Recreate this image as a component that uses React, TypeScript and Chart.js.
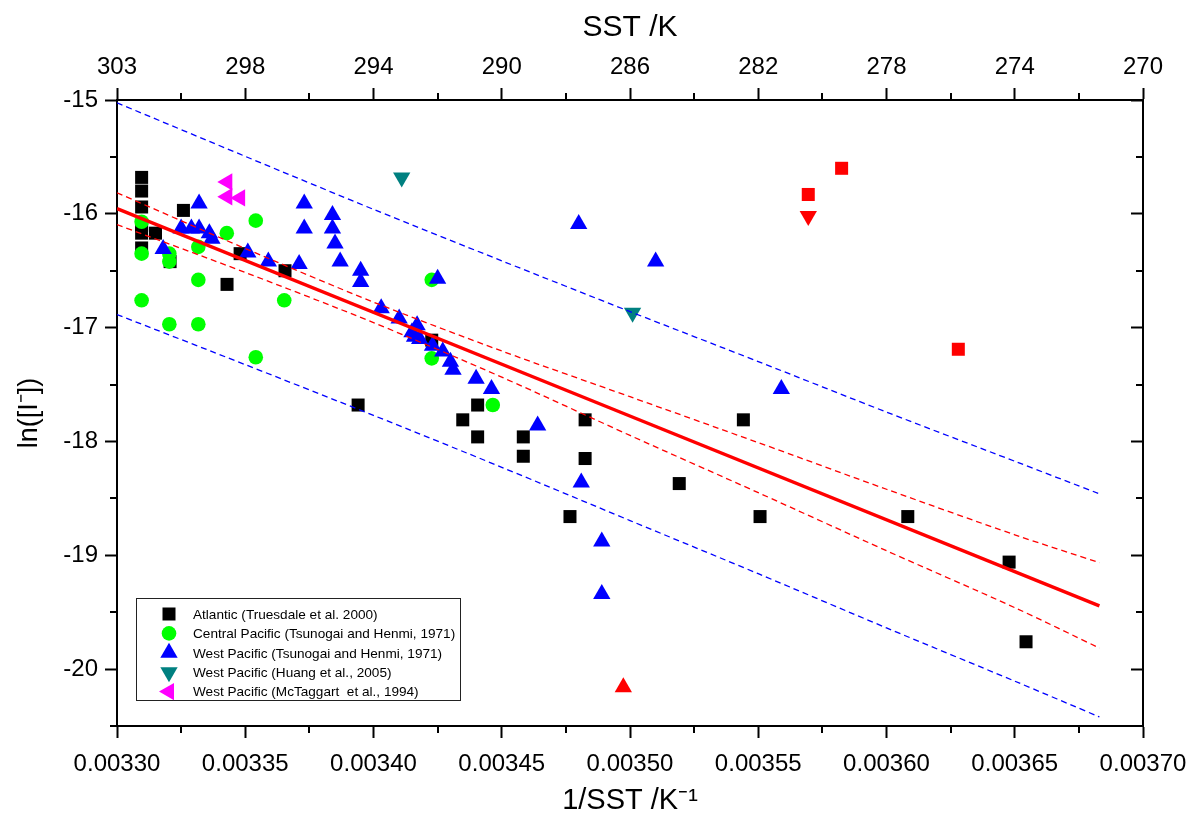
import React, { useEffect, useRef } from 'react';
import { Chart, registerables } from 'chart.js';
import * as helpers from 'chart.js/helpers';

Chart.register(...registerables);

const FONT = "'Liberation Sans', Arial, Helvetica, sans-serif";

// ---- axes ----
const X_MIN = 0.0033;
const X_MAX = 0.0037;
const X_TICKS = [0.0033, 0.00335, 0.0034, 0.00345, 0.0035, 0.00355, 0.0036, 0.00365, 0.0037];
const X_TICK_LABELS = ['0.00330', '0.00335', '0.00340', '0.00345', '0.00350', '0.00355', '0.00360', '0.00365', '0.00370'];
const X_MINOR = [0.003325, 0.003375, 0.003425, 0.003475, 0.003525, 0.003575, 0.003625, 0.003675];
const TOP_TICK_LABELS = ['303', '298', '294', '290', '286', '282', '278', '274', '270'];
const Y_MIN = -20.5;
const Y_MAX = -15;
const Y_TICKS = [-20, -19, -18, -17, -16, -15];
const Y_TICK_LABELS = ['-20', '-19', '-18', '-17', '-16', '-15'];
const Y_MINOR = [-20.5, -19.5, -18.5, -17.5, -16.5, -15.5];

// ---- series ----
const ATLANTIC_X = [0.0033096, 0.0033096, 0.0033096, 0.0033096, 0.0033096, 0.0033096, 0.003315, 0.0033259, 0.0033207, 0.0033429, 0.003348, 0.0033655, 0.003394, 0.0034227, 0.0034348, 0.0034406, 0.0034406, 0.0034584, 0.0034584, 0.0034825, 0.0034825, 0.0034766, 0.0035192, 0.0035442, 0.0035507, 0.0036083, 0.0036478, 0.0036544];
const ATLANTIC_Y = [-15.68, -15.80, -15.94, -16.10, -16.17, -16.30, -16.17, -15.97, -16.42, -16.62, -16.35, -16.50, -17.68, -17.11, -17.81, -17.68, -17.96, -17.96, -18.13, -17.81, -18.15, -18.66, -18.37, -17.81, -18.66, -18.66, -19.06, -19.76];

const CENTRAL_X = [0.0033096, 0.0033096, 0.0033096, 0.0033204, 0.0033204, 0.0033204, 0.0033317, 0.0033317, 0.0033317, 0.0033428, 0.0033541, 0.0033541, 0.0033652, 0.0034227, 0.0034227, 0.0034465];
const CENTRAL_Y = [-16.07, -16.35, -16.76, -16.35, -16.42, -16.97, -16.29, -16.58, -16.97, -16.17, -16.06, -17.26, -16.76, -16.58, -17.27, -17.68];

const WEST_TH_X = [0.003318, 0.003325, 0.003329, 0.003332, 0.003332, 0.003336, 0.003337, 0.003351, 0.003359, 0.003371, 0.003373, 0.003373, 0.003384, 0.003384, 0.003385, 0.003387, 0.003395, 0.003395, 0.003403, 0.00341, 0.003417, 0.003415, 0.003416, 0.003418, 0.003423, 0.003425, 0.003427, 0.00343, 0.003431, 0.00344, 0.003446, 0.003464, 0.00348, 0.003481, 0.003489, 0.003489, 0.00351, 0.003559];
const WEST_TH_Y = [-16.31, -16.13, -16.13, -15.91, -16.13, -16.17, -16.22, -16.34, -16.42, -16.44, -15.91, -16.13, -16.01, -16.13, -16.26, -16.42, -16.50, -16.60, -16.83, -16.92, -16.98, -17.04, -17.08, -17.10, -17.16, -16.57, -17.21, -17.30, -17.37, -17.45, -17.54, -17.86, -16.09, -18.36, -18.88, -19.34, -16.42, -17.54];

const WEST_HUANG_X = [0.003411, 0.003501];
const WEST_HUANG_Y = [-15.68, -16.87];

const WEST_MCT_X = [0.003343, 0.003343, 0.003348];
const WEST_MCT_Y = [-15.72, -15.85, -15.86];

const RED_SQ_X = [0.0035825, 0.0035695, 0.003628];
const RED_SQ_Y = [-15.60, -15.83, -17.19];
const RED_DOWN_X = [0.0035695];
const RED_DOWN_Y = [-16.02];
const RED_UP_X = [0.0034974];
const RED_UP_Y = [-20.16];

// ---- fit and bands ----
const FIT_X = [0.0033, 0.003683];
const FIT_Y = [-15.955, -19.444];
const BAND_X = [0.0033, 0.00335, 0.0034, 0.00345, 0.0035, 0.00355, 0.0036, 0.00365, 0.003683];
const CONF_UPPER = [-15.815, -16.305, -16.776, -17.205, -17.607, -18.01, -18.42, -18.82, -19.065];
const CONF_LOWER = [-16.095, -16.515, -16.956, -17.435, -17.947, -18.45, -18.96, -19.46, -19.815];
const PRED_UPPER = [-15.025, -15.495, -15.961, -16.413, -16.859, -17.298, -17.742, -18.174, -18.46];
const PRED_LOWER = [-16.885, -17.325, -17.771, -18.227, -18.695, -19.162, -19.638, -20.106, -20.42];

const pts = (xs: number[], ys: number[]) => xs.map((x, i) => ({ x, y: ys[i] }));

const legendPlugin = {
  id: 'boxLegend',
  afterDatasetsDraw(chart: any) {
    const { ctx, chartArea } = chart;
    const left = chartArea.left + 19;
    const top = chartArea.top + 498;
    const w = 324;
    const h = 102;
    ctx.save();
    ctx.fillStyle = '#ffffff';
    ctx.fillRect(left, top, w, h);
    ctx.strokeStyle = '#222';
    ctx.lineWidth = 1;
    ctx.strokeRect(left + 0.5, top + 0.5, w, h);
    const items = chart.data.datasets.filter((d: any) => d.inLegend);
    items.forEach((d: any, i: number) => {
      const y = top + 16 + i * 19.4;
      const x = left + 33;
      ctx.fillStyle = d.pointBackgroundColor;
      ctx.strokeStyle = d.pointBackgroundColor;
      helpers.drawPoint(ctx, { pointStyle: d.pointStyle, rotation: d.pointRotation || 0, radius: d.pointRadius, borderWidth: 0 }, x, y);
      ctx.fillStyle = '#000';
      ctx.font = `13.6px ${FONT}`;
      ctx.textAlign = 'left';
      ctx.textBaseline = 'middle';
      ctx.fillText(d.label, left + 57, y + 1);
    });
    ctx.restore();
  },
};

const minorTicksPlugin = {
  id: 'minorTicks',
  afterDraw(chart: any) {
    const { ctx, chartArea, scales } = chart;
    ctx.save();
    ctx.strokeStyle = '#000';
    ctx.lineWidth = 2;
    const seg = (x1: number, y1: number, x2: number, y2: number) => {
      ctx.beginPath();
      ctx.moveTo(x1, y1);
      ctx.lineTo(x2, y2);
      ctx.stroke();
    };
    X_MINOR.forEach((v) => {
      const px = Math.round(scales.x.getPixelForValue(v));
      seg(px, chartArea.bottom, px, chartArea.bottom + 7);
      seg(px, chartArea.top, px, chartArea.top - 7);
    });
    Y_MINOR.forEach((v) => {
      const py = Math.round(scales.y.getPixelForValue(v));
      seg(chartArea.left, py, chartArea.left - 7, py);
      seg(chartArea.right, py, chartArea.right - 7, py);
    });
    ctx.restore();
  },
};

export default function App() {
  const canvasRef = useRef<HTMLCanvasElement | null>(null);

  useEffect(() => {
    if (!canvasRef.current) return;
    const font = (size: number) => ({ family: FONT, size, weight: 'normal' as const });
    const grid = (len: number) => ({ drawOnChartArea: false, drawTicks: true, tickLength: len, tickWidth: 2, tickColor: '#000' });
    const border = { display: true, color: '#000', width: 2 };
    const fixH = (h: number) => (s: any) => { s.height = h; s.paddingLeft = 0; s.paddingRight = 0; };
    const fixW = (w: number) => (s: any) => { s.width = w; s.paddingTop = 0; s.paddingBottom = 0; };

    const scatter = (label: string, xs: number[], ys: number[], color: string, style: string, radius: number, rotation: number, order: number, inLegend: boolean) => ({
      label,
      data: pts(xs, ys),
      pointStyle: style,
      pointRotation: rotation,
      pointRadius: radius,
      pointHoverRadius: radius,
      pointBackgroundColor: color,
      pointBorderColor: color,
      pointBorderWidth: 0,
      showLine: false,
      order,
      inLegend,
    });
    const line = (label: string, xs: number[], ys: number[], color: string, width: number, dash: number[], order: number) => ({
      label,
      data: pts(xs, ys),
      showLine: true,
      borderColor: color,
      borderWidth: width,
      borderDash: dash,
      pointRadius: 0,
      pointHoverRadius: 0,
      fill: false,
      tension: 0.3,
      order,
      inLegend: false,
    });

    const chart = new Chart(canvasRef.current, {
      type: 'scatter',
      data: {
        datasets: [
          scatter('Atlantic (Truesdale et al. 2000)', ATLANTIC_X, ATLANTIC_Y, '#000000', 'rect', 9.2, 0, 10, true),
          scatter('Central Pacific (Tsunogai and Henmi, 1971)', CENTRAL_X, CENTRAL_Y, '#00ff00', 'circle', 7.3, 0, 9, true),
          scatter('West Pacific (Tsunogai and Henmi, 1971)', WEST_TH_X, WEST_TH_Y, '#0000ff', 'triangle', 10, 0, 8, true),
          scatter('West Pacific (Huang et al., 2005)', WEST_HUANG_X, WEST_HUANG_Y, '#008080', 'triangle', 10, 180, 7, true),
          scatter('West Pacific (McTaggart  et al., 1994)', WEST_MCT_X, WEST_MCT_Y, '#ff00ff', 'triangle', 10, -90, 6, true),
          scatter('red squares', RED_SQ_X, RED_SQ_Y, '#ff0000', 'rect', 9.2, 0, 5, false),
          scatter('red down', RED_DOWN_X, RED_DOWN_Y, '#ff0000', 'triangle', 10, 180, 5, false),
          scatter('red up', RED_UP_X, RED_UP_Y, '#ff0000', 'triangle', 10, 0, 5, false),
          line('pred upper', BAND_X, PRED_UPPER, '#0000ff', 1.3, [6, 4], 3),
          line('pred lower', BAND_X, PRED_LOWER, '#0000ff', 1.3, [6, 4], 3),
          line('conf upper', BAND_X, CONF_UPPER, '#ff0000', 1.3, [6, 4], 2),
          line('conf lower', BAND_X, CONF_LOWER, '#ff0000', 1.3, [6, 4], 2),
          line('fit', FIT_X, FIT_Y, '#ff0000', 3.5, [], 1),
        ] as any,
      },
      options: {
        animation: false,
        responsive: false,
        devicePixelRatio: 1,
        events: [],
        layout: { padding: 0 },
        plugins: { legend: { display: false }, tooltip: { enabled: false } },
        scales: {
          x: {
            type: 'linear',
            position: 'bottom',
            min: X_MIN,
            max: X_MAX,
            afterBuildTicks: (s: any) => { s.ticks = X_TICKS.map((v) => ({ value: v })); },
            afterFit: fixH(92),
            ticks: { callback: (_v: any, i: number) => X_TICK_LABELS[i], font: font(24), color: '#000', padding: 12, maxRotation: 0, autoSkip: false },
            grid: grid(12),
            border,
            title: { display: true, text: '1/SST /K\u207B\u00B9', font: font(29), color: '#000', padding: { top: 0, bottom: 0 } },
          },
          x2: {
            type: 'linear',
            position: 'top',
            min: X_MIN,
            max: X_MAX,
            afterBuildTicks: (s: any) => { s.ticks = X_TICKS.map((v) => ({ value: v })); },
            afterFit: fixH(100),
            ticks: { callback: (_v: any, i: number) => TOP_TICK_LABELS[i], font: font(24), color: '#000', padding: 6, maxRotation: 0, autoSkip: false },
            grid: grid(12),
            border,
            title: { display: true, text: 'SST /K', font: font(30), color: '#000', padding: { top: 10, bottom: 0 } },
          },
          y: {
            type: 'linear',
            position: 'left',
            min: Y_MIN,
            max: Y_MAX,
            afterBuildTicks: (s: any) => { s.ticks = Y_TICKS.map((v) => ({ value: v })); },
            afterFit: fixW(117),
            ticks: { callback: (_v: any, i: number) => Y_TICK_LABELS[i], font: font(24), color: '#000', padding: 7 },
            grid: grid(12),
            border,
            title: { display: true, text: 'ln([I\u207B])', font: font(27), color: '#000', padding: { top: 13, bottom: 0 } },
          },
          y2: {
            type: 'linear',
            position: 'right',
            min: Y_MIN,
            max: Y_MAX,
            afterBuildTicks: (s: any) => { s.ticks = Y_TICKS.map((v) => ({ value: v })); },
            afterFit: fixW(47),
            ticks: { display: false },
            grid: grid(-12),
            border,
          },
        },
      } as any,
      plugins: [legendPlugin, minorTicksPlugin],
    });
    return () => chart.destroy();
  }, []);

  return (
    <div style={{ position: 'absolute', left: 0, top: 0, width: 1190, height: 818, background: '#fff' }}>
      <canvas ref={canvasRef} width={1190} height={818} style={{ display: 'block', width: 1190, height: 818 }} />
    </div>
  );
}
